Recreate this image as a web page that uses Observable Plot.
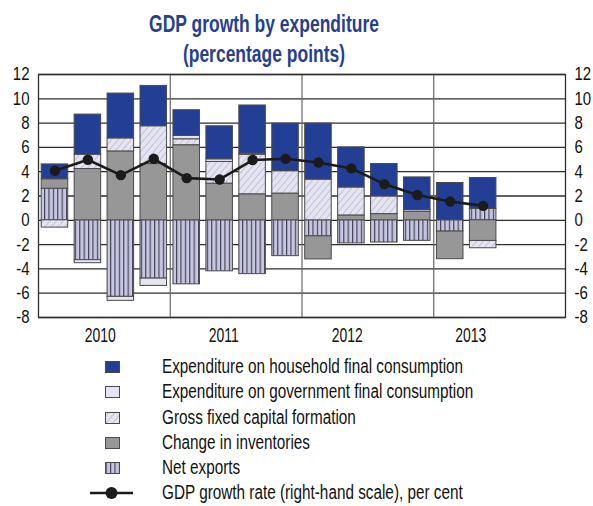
<!DOCTYPE html>
<html>
<head>
<meta charset="utf-8">
<script src="https://cdn.jsdelivr.net/npm/d3@7"></script>
<script src="https://cdn.jsdelivr.net/npm/@observablehq/plot@0.6"></script>
<style>
  html, body { margin: 0; padding: 0; background: #fff; }
  body { width: 593px; height: 506px; position: relative; overflow: hidden;
         font-family: "Liberation Sans", Arial, sans-serif; }
  #title { position: absolute; left: 0; width: 528px; top: 9px; text-align: center;
           color: #263f8f; font-weight: bold; font-size: 23px; line-height: 30px;
           transform: scaleX(0.76); transform-origin: 264px 0; }
  #chart { position: absolute; left: 0; top: 54px; }
  #legend { position: absolute; left: 0; top: 354px; }
  .row { position: relative; height: 25.3px; width: 560px; }
  .row svg { position: absolute; left: 88px; top: 0; }
  .row span { position: absolute; left: 162px; top: 0; line-height: 25.3px; font-size: 20px; color: #111;
              white-space: nowrap; transform: scaleX(0.765); transform-origin: 0 50%; }
</style>
</head>
<body>
<div id="title">GDP growth by expenditure<br>(percentage points)</div>
<div id="chart"></div>
<div id="legend"></div>
<script>
// ---- data ----
const quarters = ["2010Q1","2010Q2","2010Q3","2010Q4","2011Q1","2011Q2","2011Q3","2011Q4",
                  "2012Q1","2012Q2","2012Q3","2012Q4","2013Q1","2013Q2"];
const years = ["2010", "2011", "2012", "2013"];
const seriesNames = [
  "Expenditure on household final consumption",
  "Expenditure on government final consumption",
  "Gross fixed capital formation",
  "Change in inventories",
  "Net exports"
];
const lineName = "GDP growth rate (right-hand scale), per cent";
const household   = [1.22, 3.30, 3.69, 3.32, 2.11, 2.72, 3.96, 3.92, 4.61, 3.30, 2.67, 2.69, 3.07, 2.55];
const government  = [0.00, -0.25, -0.33, -0.60, 0.28, 0.22, 0.10, 0.00, 0.00, 0.00, 0.00, 0.00, 0.00, 0.00];
const gfcf        = [-0.60, 1.18, 1.07, 3.11, 0.49, 1.78, 3.25, 1.84, 3.35, 2.30, 1.45, 0.14, 0.00, -0.60];
const inventories = [0.78, 4.22, 5.67, 4.63, 6.18, 3.02, 2.14, 2.20, -1.90, 0.40, 0.51, 0.70, -2.27, -1.70];
const netExports  = [2.60, -3.28, -6.30, -4.80, -5.27, -4.20, -4.43, -2.95, -1.32, -1.90, -1.83, -1.69, -0.93, 0.93];
const gdp         = [4.08, 4.98, 3.72, 5.06, 3.47, 3.36, 4.96, 5.06, 4.76, 4.27, 2.98, 2.08, 1.55, 1.19];
const yTicks = [-8, -6, -4, -2, 0, 2, 4, 6, 8, 10, 12];

// ---- styles ----
const fills = ["#233f95", "#e4e4f2", "url(#pat-gfcf)", "#979797", "url(#pat-nx)"];

// stacking order from zero outward: net exports, inventories, GFCF, government, household
const stackOrder = [
  [seriesNames[4], netExports],
  [seriesNames[3], inventories],
  [seriesNames[2], gfcf],
  [seriesNames[1], government],
  [seriesNames[0], household]
];
const rows = [];
for (const [name, vals] of stackOrder) {
  vals.forEach((v, i) => { if (v !== 0) rows.push({q: i, quarter: quarters[i], series: name, value: v}); });
}
const line = gdp.map((v, i) => ({q: i, value: v}));
const nQuarters = years.length * 4;

const plot = Plot.plot({
  width: 593,
  height: 298,
  marginTop: 20,
  marginLeft: 38,
  marginRight: 28,
  marginBottom: 35,
  style: {fontFamily: '"Liberation Sans", Arial, sans-serif', fontSize: "18.5px", color: "#111", background: "transparent"},
  x: {domain: [0, nQuarters], axis: null},
  y: {domain: [-8, 12], axis: null},
  color: {domain: seriesNames, range: fills},
  marks: [
    Plot.gridY(yTicks, {stroke: "#2e2e2e", strokeOpacity: 1, strokeWidth: 1.3}),
    Plot.ruleX(d3.range(4, nQuarters, 4), {stroke: "#666", strokeWidth: 1.2}),
    Plot.rectY(rows, Plot.stackY({
      x: "q", interval: 1, y: "value", fill: "series",
      stroke: "#4a4a4a", strokeWidth: 1, insetLeft: 3.2, insetRight: 3.2
    })),
    Plot.line(line, {x: d => d.q + 0.5, y: "value", stroke: "#1b1b1b", strokeWidth: 2.6}),
    Plot.dot(line, {x: d => d.q + 0.5, y: "value", r: 5.2, fill: "#1b1b1b", stroke: "none"}),
    Plot.frame({stroke: "#2e2e2e", strokeWidth: 1.3}),
    Plot.axisY({anchor: "left", label: null, ticks: yTicks, tickSize: 0, tickPadding: 9, tickFormat: d => String(d), fontSize: 18.5}),
    Plot.axisY({anchor: "right", label: null, ticks: yTicks, tickSize: 0, tickPadding: 9, tickFormat: d => String(d), fontSize: 18.5}),
    Plot.text(years, {x: (d, i) => (i + 0.5) * (nQuarters - 1) / years.length, frameAnchor: "bottom", dy: 18, lineAnchor: "middle", fontSize: 20, fill: "#111"})
  ]
});

// condense all chart texts horizontally around their anchor
plot.querySelectorAll("text").forEach(t => {
  const k = t.textContent.length === 4 ? 0.7 : 0.81;
  t.setAttribute("transform", (t.getAttribute("transform") || "") + ` scale(${k},1)`);
});

// patterns
const ns = "http://www.w3.org/2000/svg";
const defs = document.createElementNS(ns, "defs");
defs.innerHTML = `
  <pattern id="pat-gfcf" patternUnits="userSpaceOnUse" width="5" height="5" patternTransform="rotate(40)">
    <rect width="5" height="5" fill="#e4e4f2"></rect>
    <line x1="0" y1="0" x2="0" y2="5" stroke="#9a9aa8" stroke-width="0.9"></line>
  </pattern>
  <pattern id="pat-nx" patternUnits="userSpaceOnUse" width="4.4" height="10">
    <rect width="4.4" height="10" fill="#c6c6e2"></rect>
    <line x1="0.6" y1="0" x2="0.6" y2="10" stroke="#3a3a4a" stroke-width="1.1"></line>
  </pattern>`;
plot.insertBefore(defs, plot.firstChild);
document.getElementById("chart").appendChild(plot);

// legend
const legend = document.getElementById("legend");
seriesNames.forEach((name, i) => {
  const row = document.createElement("div");
  row.className = "row";
  row.innerHTML = `<svg width="50" height="25.3"><rect x="17.5" y="7.5" width="14" height="11" fill="${fills[i]}" stroke="#4a4a4a" stroke-width="1"></rect></svg><span>${name}</span>`;
  legend.appendChild(row);
});
const lrow = document.createElement("div");
lrow.className = "row";
lrow.innerHTML = `<svg width="50" height="25.3"><line x1="2" x2="45" y1="13" y2="13" stroke="#1b1b1b" stroke-width="2.6"></line><circle cx="23.5" cy="13" r="6" fill="#1b1b1b"></circle></svg><span>${lineName}</span>`;
legend.appendChild(lrow);
</script>
</body>
</html>
